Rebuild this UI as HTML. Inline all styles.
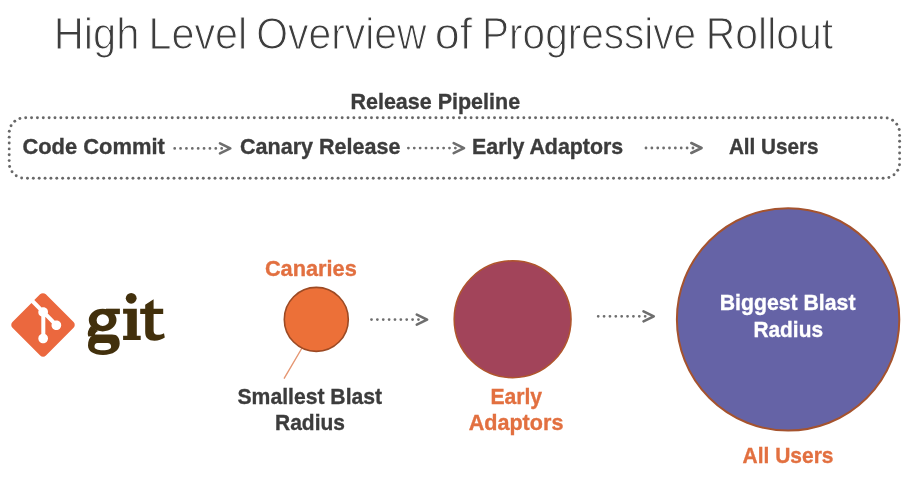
<!DOCTYPE html>
<html><head><meta charset="utf-8"><style>
html,body{margin:0;padding:0;background:#fff;}
body{width:907px;height:499px;overflow:hidden;}
svg{display:block;will-change:transform;}
</style></head><body>
<svg width="907" height="499" viewBox="0 0 907 499">
<g fill="#686868"><circle cx="25.70" cy="117.80" r="1.45"/><circle cx="31.56" cy="117.80" r="1.45"/><circle cx="37.42" cy="117.80" r="1.45"/><circle cx="43.28" cy="117.80" r="1.45"/><circle cx="49.14" cy="117.80" r="1.45"/><circle cx="55.00" cy="117.80" r="1.45"/><circle cx="60.86" cy="117.80" r="1.45"/><circle cx="66.72" cy="117.80" r="1.45"/><circle cx="72.58" cy="117.80" r="1.45"/><circle cx="78.44" cy="117.80" r="1.45"/><circle cx="84.30" cy="117.80" r="1.45"/><circle cx="90.16" cy="117.80" r="1.45"/><circle cx="96.02" cy="117.80" r="1.45"/><circle cx="101.89" cy="117.80" r="1.45"/><circle cx="107.75" cy="117.80" r="1.45"/><circle cx="113.61" cy="117.80" r="1.45"/><circle cx="119.47" cy="117.80" r="1.45"/><circle cx="125.33" cy="117.80" r="1.45"/><circle cx="131.19" cy="117.80" r="1.45"/><circle cx="137.05" cy="117.80" r="1.45"/><circle cx="142.91" cy="117.80" r="1.45"/><circle cx="148.77" cy="117.80" r="1.45"/><circle cx="154.63" cy="117.80" r="1.45"/><circle cx="160.49" cy="117.80" r="1.45"/><circle cx="166.35" cy="117.80" r="1.45"/><circle cx="172.21" cy="117.80" r="1.45"/><circle cx="178.07" cy="117.80" r="1.45"/><circle cx="183.93" cy="117.80" r="1.45"/><circle cx="189.79" cy="117.80" r="1.45"/><circle cx="195.65" cy="117.80" r="1.45"/><circle cx="201.51" cy="117.80" r="1.45"/><circle cx="207.37" cy="117.80" r="1.45"/><circle cx="213.23" cy="117.80" r="1.45"/><circle cx="219.09" cy="117.80" r="1.45"/><circle cx="224.95" cy="117.80" r="1.45"/><circle cx="230.81" cy="117.80" r="1.45"/><circle cx="236.67" cy="117.80" r="1.45"/><circle cx="242.54" cy="117.80" r="1.45"/><circle cx="248.40" cy="117.80" r="1.45"/><circle cx="254.26" cy="117.80" r="1.45"/><circle cx="260.12" cy="117.80" r="1.45"/><circle cx="265.98" cy="117.80" r="1.45"/><circle cx="271.84" cy="117.80" r="1.45"/><circle cx="277.70" cy="117.80" r="1.45"/><circle cx="283.56" cy="117.80" r="1.45"/><circle cx="289.42" cy="117.80" r="1.45"/><circle cx="295.28" cy="117.80" r="1.45"/><circle cx="301.14" cy="117.80" r="1.45"/><circle cx="307.00" cy="117.80" r="1.45"/><circle cx="312.86" cy="117.80" r="1.45"/><circle cx="318.72" cy="117.80" r="1.45"/><circle cx="324.58" cy="117.80" r="1.45"/><circle cx="330.44" cy="117.80" r="1.45"/><circle cx="336.30" cy="117.80" r="1.45"/><circle cx="342.16" cy="117.80" r="1.45"/><circle cx="348.02" cy="117.80" r="1.45"/><circle cx="353.88" cy="117.80" r="1.45"/><circle cx="359.74" cy="117.80" r="1.45"/><circle cx="365.60" cy="117.80" r="1.45"/><circle cx="371.46" cy="117.80" r="1.45"/><circle cx="377.32" cy="117.80" r="1.45"/><circle cx="383.19" cy="117.80" r="1.45"/><circle cx="389.05" cy="117.80" r="1.45"/><circle cx="394.91" cy="117.80" r="1.45"/><circle cx="400.77" cy="117.80" r="1.45"/><circle cx="406.63" cy="117.80" r="1.45"/><circle cx="412.49" cy="117.80" r="1.45"/><circle cx="418.35" cy="117.80" r="1.45"/><circle cx="424.21" cy="117.80" r="1.45"/><circle cx="430.07" cy="117.80" r="1.45"/><circle cx="435.93" cy="117.80" r="1.45"/><circle cx="441.79" cy="117.80" r="1.45"/><circle cx="447.65" cy="117.80" r="1.45"/><circle cx="453.51" cy="117.80" r="1.45"/><circle cx="459.37" cy="117.80" r="1.45"/><circle cx="465.23" cy="117.80" r="1.45"/><circle cx="471.09" cy="117.80" r="1.45"/><circle cx="476.95" cy="117.80" r="1.45"/><circle cx="482.81" cy="117.80" r="1.45"/><circle cx="488.67" cy="117.80" r="1.45"/><circle cx="494.53" cy="117.80" r="1.45"/><circle cx="500.39" cy="117.80" r="1.45"/><circle cx="506.25" cy="117.80" r="1.45"/><circle cx="512.11" cy="117.80" r="1.45"/><circle cx="517.97" cy="117.80" r="1.45"/><circle cx="523.84" cy="117.80" r="1.45"/><circle cx="529.70" cy="117.80" r="1.45"/><circle cx="535.56" cy="117.80" r="1.45"/><circle cx="541.42" cy="117.80" r="1.45"/><circle cx="547.28" cy="117.80" r="1.45"/><circle cx="553.14" cy="117.80" r="1.45"/><circle cx="559.00" cy="117.80" r="1.45"/><circle cx="564.86" cy="117.80" r="1.45"/><circle cx="570.72" cy="117.80" r="1.45"/><circle cx="576.58" cy="117.80" r="1.45"/><circle cx="582.44" cy="117.80" r="1.45"/><circle cx="588.30" cy="117.80" r="1.45"/><circle cx="594.16" cy="117.80" r="1.45"/><circle cx="600.02" cy="117.80" r="1.45"/><circle cx="605.88" cy="117.80" r="1.45"/><circle cx="611.74" cy="117.80" r="1.45"/><circle cx="617.60" cy="117.80" r="1.45"/><circle cx="623.46" cy="117.80" r="1.45"/><circle cx="629.32" cy="117.80" r="1.45"/><circle cx="635.18" cy="117.80" r="1.45"/><circle cx="641.04" cy="117.80" r="1.45"/><circle cx="646.90" cy="117.80" r="1.45"/><circle cx="652.76" cy="117.80" r="1.45"/><circle cx="658.62" cy="117.80" r="1.45"/><circle cx="664.49" cy="117.80" r="1.45"/><circle cx="670.35" cy="117.80" r="1.45"/><circle cx="676.21" cy="117.80" r="1.45"/><circle cx="682.07" cy="117.80" r="1.45"/><circle cx="687.93" cy="117.80" r="1.45"/><circle cx="693.79" cy="117.80" r="1.45"/><circle cx="699.65" cy="117.80" r="1.45"/><circle cx="705.51" cy="117.80" r="1.45"/><circle cx="711.37" cy="117.80" r="1.45"/><circle cx="717.23" cy="117.80" r="1.45"/><circle cx="723.09" cy="117.80" r="1.45"/><circle cx="728.95" cy="117.80" r="1.45"/><circle cx="734.81" cy="117.80" r="1.45"/><circle cx="740.67" cy="117.80" r="1.45"/><circle cx="746.53" cy="117.80" r="1.45"/><circle cx="752.39" cy="117.80" r="1.45"/><circle cx="758.25" cy="117.80" r="1.45"/><circle cx="764.11" cy="117.80" r="1.45"/><circle cx="769.97" cy="117.80" r="1.45"/><circle cx="775.83" cy="117.80" r="1.45"/><circle cx="781.69" cy="117.80" r="1.45"/><circle cx="787.55" cy="117.80" r="1.45"/><circle cx="793.41" cy="117.80" r="1.45"/><circle cx="799.27" cy="117.80" r="1.45"/><circle cx="805.14" cy="117.80" r="1.45"/><circle cx="811.00" cy="117.80" r="1.45"/><circle cx="816.86" cy="117.80" r="1.45"/><circle cx="822.72" cy="117.80" r="1.45"/><circle cx="828.58" cy="117.80" r="1.45"/><circle cx="834.44" cy="117.80" r="1.45"/><circle cx="840.30" cy="117.80" r="1.45"/><circle cx="846.16" cy="117.80" r="1.45"/><circle cx="852.02" cy="117.80" r="1.45"/><circle cx="857.88" cy="117.80" r="1.45"/><circle cx="863.74" cy="117.80" r="1.45"/><circle cx="869.60" cy="117.80" r="1.45"/><circle cx="875.46" cy="117.80" r="1.45"/><circle cx="881.32" cy="117.80" r="1.45"/><circle cx="887.16" cy="118.07" r="1.45"/><circle cx="892.57" cy="120.23" r="1.45"/><circle cx="896.78" cy="124.25" r="1.45"/><circle cx="899.19" cy="129.56" r="1.45"/><circle cx="899.60" cy="135.39" r="1.45"/><circle cx="899.60" cy="141.25" r="1.45"/><circle cx="899.60" cy="147.11" r="1.45"/><circle cx="899.60" cy="152.97" r="1.45"/><circle cx="899.60" cy="158.83" r="1.45"/><circle cx="899.50" cy="164.69" r="1.45"/><circle cx="897.73" cy="170.24" r="1.45"/><circle cx="894.01" cy="174.72" r="1.45"/><circle cx="888.89" cy="177.50" r="1.45"/><circle cx="883.10" cy="178.20" r="1.45"/><circle cx="877.24" cy="178.20" r="1.45"/><circle cx="871.38" cy="178.20" r="1.45"/><circle cx="865.52" cy="178.20" r="1.45"/><circle cx="859.66" cy="178.20" r="1.45"/><circle cx="853.80" cy="178.20" r="1.45"/><circle cx="847.94" cy="178.20" r="1.45"/><circle cx="842.08" cy="178.20" r="1.45"/><circle cx="836.22" cy="178.20" r="1.45"/><circle cx="830.36" cy="178.20" r="1.45"/><circle cx="824.50" cy="178.20" r="1.45"/><circle cx="818.64" cy="178.20" r="1.45"/><circle cx="812.78" cy="178.20" r="1.45"/><circle cx="806.91" cy="178.20" r="1.45"/><circle cx="801.05" cy="178.20" r="1.45"/><circle cx="795.19" cy="178.20" r="1.45"/><circle cx="789.33" cy="178.20" r="1.45"/><circle cx="783.47" cy="178.20" r="1.45"/><circle cx="777.61" cy="178.20" r="1.45"/><circle cx="771.75" cy="178.20" r="1.45"/><circle cx="765.89" cy="178.20" r="1.45"/><circle cx="760.03" cy="178.20" r="1.45"/><circle cx="754.17" cy="178.20" r="1.45"/><circle cx="748.31" cy="178.20" r="1.45"/><circle cx="742.45" cy="178.20" r="1.45"/><circle cx="736.59" cy="178.20" r="1.45"/><circle cx="730.73" cy="178.20" r="1.45"/><circle cx="724.87" cy="178.20" r="1.45"/><circle cx="719.01" cy="178.20" r="1.45"/><circle cx="713.15" cy="178.20" r="1.45"/><circle cx="707.29" cy="178.20" r="1.45"/><circle cx="701.43" cy="178.20" r="1.45"/><circle cx="695.57" cy="178.20" r="1.45"/><circle cx="689.71" cy="178.20" r="1.45"/><circle cx="683.85" cy="178.20" r="1.45"/><circle cx="677.99" cy="178.20" r="1.45"/><circle cx="672.13" cy="178.20" r="1.45"/><circle cx="666.26" cy="178.20" r="1.45"/><circle cx="660.40" cy="178.20" r="1.45"/><circle cx="654.54" cy="178.20" r="1.45"/><circle cx="648.68" cy="178.20" r="1.45"/><circle cx="642.82" cy="178.20" r="1.45"/><circle cx="636.96" cy="178.20" r="1.45"/><circle cx="631.10" cy="178.20" r="1.45"/><circle cx="625.24" cy="178.20" r="1.45"/><circle cx="619.38" cy="178.20" r="1.45"/><circle cx="613.52" cy="178.20" r="1.45"/><circle cx="607.66" cy="178.20" r="1.45"/><circle cx="601.80" cy="178.20" r="1.45"/><circle cx="595.94" cy="178.20" r="1.45"/><circle cx="590.08" cy="178.20" r="1.45"/><circle cx="584.22" cy="178.20" r="1.45"/><circle cx="578.36" cy="178.20" r="1.45"/><circle cx="572.50" cy="178.20" r="1.45"/><circle cx="566.64" cy="178.20" r="1.45"/><circle cx="560.78" cy="178.20" r="1.45"/><circle cx="554.92" cy="178.20" r="1.45"/><circle cx="549.06" cy="178.20" r="1.45"/><circle cx="543.20" cy="178.20" r="1.45"/><circle cx="537.34" cy="178.20" r="1.45"/><circle cx="531.48" cy="178.20" r="1.45"/><circle cx="525.61" cy="178.20" r="1.45"/><circle cx="519.75" cy="178.20" r="1.45"/><circle cx="513.89" cy="178.20" r="1.45"/><circle cx="508.03" cy="178.20" r="1.45"/><circle cx="502.17" cy="178.20" r="1.45"/><circle cx="496.31" cy="178.20" r="1.45"/><circle cx="490.45" cy="178.20" r="1.45"/><circle cx="484.59" cy="178.20" r="1.45"/><circle cx="478.73" cy="178.20" r="1.45"/><circle cx="472.87" cy="178.20" r="1.45"/><circle cx="467.01" cy="178.20" r="1.45"/><circle cx="461.15" cy="178.20" r="1.45"/><circle cx="455.29" cy="178.20" r="1.45"/><circle cx="449.43" cy="178.20" r="1.45"/><circle cx="443.57" cy="178.20" r="1.45"/><circle cx="437.71" cy="178.20" r="1.45"/><circle cx="431.85" cy="178.20" r="1.45"/><circle cx="425.99" cy="178.20" r="1.45"/><circle cx="420.13" cy="178.20" r="1.45"/><circle cx="414.27" cy="178.20" r="1.45"/><circle cx="408.41" cy="178.20" r="1.45"/><circle cx="402.55" cy="178.20" r="1.45"/><circle cx="396.69" cy="178.20" r="1.45"/><circle cx="390.83" cy="178.20" r="1.45"/><circle cx="384.96" cy="178.20" r="1.45"/><circle cx="379.10" cy="178.20" r="1.45"/><circle cx="373.24" cy="178.20" r="1.45"/><circle cx="367.38" cy="178.20" r="1.45"/><circle cx="361.52" cy="178.20" r="1.45"/><circle cx="355.66" cy="178.20" r="1.45"/><circle cx="349.80" cy="178.20" r="1.45"/><circle cx="343.94" cy="178.20" r="1.45"/><circle cx="338.08" cy="178.20" r="1.45"/><circle cx="332.22" cy="178.20" r="1.45"/><circle cx="326.36" cy="178.20" r="1.45"/><circle cx="320.50" cy="178.20" r="1.45"/><circle cx="314.64" cy="178.20" r="1.45"/><circle cx="308.78" cy="178.20" r="1.45"/><circle cx="302.92" cy="178.20" r="1.45"/><circle cx="297.06" cy="178.20" r="1.45"/><circle cx="291.20" cy="178.20" r="1.45"/><circle cx="285.34" cy="178.20" r="1.45"/><circle cx="279.48" cy="178.20" r="1.45"/><circle cx="273.62" cy="178.20" r="1.45"/><circle cx="267.76" cy="178.20" r="1.45"/><circle cx="261.90" cy="178.20" r="1.45"/><circle cx="256.04" cy="178.20" r="1.45"/><circle cx="250.18" cy="178.20" r="1.45"/><circle cx="244.31" cy="178.20" r="1.45"/><circle cx="238.45" cy="178.20" r="1.45"/><circle cx="232.59" cy="178.20" r="1.45"/><circle cx="226.73" cy="178.20" r="1.45"/><circle cx="220.87" cy="178.20" r="1.45"/><circle cx="215.01" cy="178.20" r="1.45"/><circle cx="209.15" cy="178.20" r="1.45"/><circle cx="203.29" cy="178.20" r="1.45"/><circle cx="197.43" cy="178.20" r="1.45"/><circle cx="191.57" cy="178.20" r="1.45"/><circle cx="185.71" cy="178.20" r="1.45"/><circle cx="179.85" cy="178.20" r="1.45"/><circle cx="173.99" cy="178.20" r="1.45"/><circle cx="168.13" cy="178.20" r="1.45"/><circle cx="162.27" cy="178.20" r="1.45"/><circle cx="156.41" cy="178.20" r="1.45"/><circle cx="150.55" cy="178.20" r="1.45"/><circle cx="144.69" cy="178.20" r="1.45"/><circle cx="138.83" cy="178.20" r="1.45"/><circle cx="132.97" cy="178.20" r="1.45"/><circle cx="127.11" cy="178.20" r="1.45"/><circle cx="121.25" cy="178.20" r="1.45"/><circle cx="115.39" cy="178.20" r="1.45"/><circle cx="109.53" cy="178.20" r="1.45"/><circle cx="103.66" cy="178.20" r="1.45"/><circle cx="97.80" cy="178.20" r="1.45"/><circle cx="91.94" cy="178.20" r="1.45"/><circle cx="86.08" cy="178.20" r="1.45"/><circle cx="80.22" cy="178.20" r="1.45"/><circle cx="74.36" cy="178.20" r="1.45"/><circle cx="68.50" cy="178.20" r="1.45"/><circle cx="62.64" cy="178.20" r="1.45"/><circle cx="56.78" cy="178.20" r="1.45"/><circle cx="50.92" cy="178.20" r="1.45"/><circle cx="45.06" cy="178.20" r="1.45"/><circle cx="39.20" cy="178.20" r="1.45"/><circle cx="33.34" cy="178.20" r="1.45"/><circle cx="27.48" cy="178.20" r="1.45"/><circle cx="21.64" cy="177.93" r="1.45"/><circle cx="16.23" cy="175.77" r="1.45"/><circle cx="12.02" cy="171.75" r="1.45"/><circle cx="9.61" cy="166.44" r="1.45"/><circle cx="9.20" cy="160.61" r="1.45"/><circle cx="9.20" cy="154.75" r="1.45"/><circle cx="9.20" cy="148.89" r="1.45"/><circle cx="9.20" cy="143.03" r="1.45"/><circle cx="9.20" cy="137.17" r="1.45"/><circle cx="9.30" cy="131.31" r="1.45"/><circle cx="11.07" cy="125.76" r="1.45"/><circle cx="14.79" cy="121.28" r="1.45"/><circle cx="19.91" cy="118.50" r="1.45"/></g>
<path d="M174.70 148.40h0 M180.57 148.40h0 M186.44 148.40h0 M192.31 148.40h0 M198.18 148.40h0 M204.05 148.40h0 M209.92 148.40h0 M215.79 148.40h0 M221.66 148.40h0" stroke="#6e6e6e" stroke-width="2.8" stroke-linecap="round" fill="none"/>
<path d="M220.00 143.40L230.30 148.40L220.00 153.40" stroke="#6e6e6e" stroke-width="2.6" stroke-linecap="round" stroke-linejoin="round" fill="none"/>
<path d="M408.40 148.10h0 M414.27 148.10h0 M420.14 148.10h0 M426.01 148.10h0 M431.88 148.10h0 M437.75 148.10h0 M443.62 148.10h0 M449.49 148.10h0 M455.36 148.10h0" stroke="#6e6e6e" stroke-width="2.8" stroke-linecap="round" fill="none"/>
<path d="M453.70 143.10L464.00 148.10L453.70 153.10" stroke="#6e6e6e" stroke-width="2.6" stroke-linecap="round" stroke-linejoin="round" fill="none"/>
<path d="M646.00 148.00h0 M651.87 148.00h0 M657.74 148.00h0 M663.61 148.00h0 M669.48 148.00h0 M675.35 148.00h0 M681.22 148.00h0 M687.09 148.00h0 M692.96 148.00h0" stroke="#6e6e6e" stroke-width="2.8" stroke-linecap="round" fill="none"/>
<path d="M691.30 143.00L701.60 148.00L691.30 153.00" stroke="#6e6e6e" stroke-width="2.6" stroke-linecap="round" stroke-linejoin="round" fill="none"/>
<path d="M371.50 319.60h0 M377.37 319.60h0 M383.24 319.60h0 M389.11 319.60h0 M394.98 319.60h0 M400.85 319.60h0 M406.72 319.60h0 M412.59 319.60h0 M418.46 319.60h0" stroke="#6e6e6e" stroke-width="2.8" stroke-linecap="round" fill="none"/>
<path d="M416.80 314.60L427.10 319.60L416.80 324.60" stroke="#6e6e6e" stroke-width="2.6" stroke-linecap="round" stroke-linejoin="round" fill="none"/>
<path d="M598.20 316.30h0 M604.07 316.30h0 M609.94 316.30h0 M615.81 316.30h0 M621.68 316.30h0 M627.55 316.30h0 M633.42 316.30h0 M639.29 316.30h0 M645.16 316.30h0" stroke="#6e6e6e" stroke-width="2.8" stroke-linecap="round" fill="none"/>
<path d="M643.50 311.30L653.80 316.30L643.50 321.30" stroke="#6e6e6e" stroke-width="2.6" stroke-linecap="round" stroke-linejoin="round" fill="none"/>
<line x1="302" y1="348" x2="284.3" y2="378.2" stroke="#E59672" stroke-width="1.4" stroke-linecap="round"/>
<circle cx="316.3" cy="319.4" r="32.0" fill="#EC7038" stroke="#9C4A24" stroke-width="1.6"/>
<circle cx="512.6" cy="319.25" r="58.45" fill="#A2445A" stroke="#B0552C" stroke-width="1.5"/>
<circle cx="788.1" cy="319.4" r="111.2" fill="#6563A6" stroke="#A5532E" stroke-width="2"/>
<g transform="translate(9.5 291.4) scale(0.691)"><path fill="#EB683E" d="M92.71,44.408L52.591,4.291c-2.31-2.311-6.057-2.311-8.369,0l-8.33,8.332L46.459,23.19c2.456-0.83,5.272-0.273,7.229,1.685c1.969,1.97,2.521,4.81,1.67,7.275l10.186,10.185c2.465-0.85,5.307-0.3,7.275,1.671c2.75,2.75,2.75,7.206,0,9.958c-2.752,2.751-7.208,2.751-9.961,0c-2.068-2.07-2.58-5.11-1.531-7.658l-9.5-9.499v24.997c0.67,0.332,1.303,0.774,1.861,1.332c2.75,2.75,2.75,7.206,0,9.959c-2.75,2.749-7.209,2.749-9.957,0c-2.75-2.754-2.75-7.21,0-9.959c0.68-0.679,1.467-1.193,2.307-1.537V36.369c-0.84-0.344-1.625-0.853-2.307-1.537c-2.083-2.082-2.584-5.14-1.516-7.698L31.798,16.715L4.288,44.222c-2.311,2.313-2.311,6.06,0,8.371l40.121,40.118c2.31,2.311,6.056,2.311,8.369,0l39.932-39.934C95.021,50.464,95.021,46.716,92.71,44.408z"/></g>
<path fill="#42300C" fill-rule="evenodd" d="M88.8,320.05 A13.85,11.35 0 1 0 116.5,320.05 A13.85,11.35 0 1 0 88.8,320.05 Z M96.6,320.2 A6.2,5.9 0 1 1 109,320.2 A6.2,5.9 0 1 1 96.6,320.2 Z"/>
<rect fill="#42300C" x="106" y="308.7" width="13.9" height="5.4"/>
<path fill="#42300C" d="M91,326 C88,330 87,333 88.3,336.5 L95,336 C94.5,334 95.5,332 98,331 Z"/>
<path fill="#42300C" fill-rule="evenodd" d="M95,334.6 L112,334.6 C117.5,334.6 119.7,338 119.7,343.5 C119.7,350.5 113,354.9 103,354.9 C93,354.9 88,351 88,345.5 C88,341 89.5,337.5 92,335.8 Z M97.5,342.9 L107.5,342.9 C110,342.9 111.1,344.5 111.1,346.5 C111.1,349 108.5,350.2 103,350.2 C97.5,350.2 94.5,349 94.5,346.5 C94.5,344.2 95.5,342.9 97.5,342.9 Z"/>
<circle fill="#42300C" cx="131.2" cy="298.3" r="5.4"/>
<path fill="#42300C" d="M123.1,308.7 L136.8,308.7 L136.8,335.7 L140.7,335.7 L140.7,340.1 L123.1,340.1 L123.1,335.7 L127.3,335.7 L127.3,313.8 L123.1,313.8 Z"/>
<path fill="#42300C" d="M145.2,304.8 L153.6,299.2 L153.6,308.7 L163.2,308.7 L163.2,314 L153.6,314 L153.6,330 C153.6,333.5 155,334.8 158,334.8 C160,334.8 162,334.3 164,333.2 L164.8,337.6 C162,339.5 158.5,340.7 154.5,340.7 C148.5,340.7 145.2,338 145.2,332 L145.2,314 L140.2,314 L140.2,308.7 L145.2,308.7 Z"/>
<text x="53.66" y="48.7" font-size="45.0" font-weight="normal" fill="#3d3d3d" font-family="&quot;Liberation Sans&quot;, sans-serif" textLength="85.83" lengthAdjust="spacingAndGlyphs" stroke="#fff" stroke-width="1.1">High</text>
<text x="148.49" y="48.7" font-size="45.0" font-weight="normal" fill="#3d3d3d" font-family="&quot;Liberation Sans&quot;, sans-serif" textLength="98.66" lengthAdjust="spacingAndGlyphs" stroke="#fff" stroke-width="1.1">Level</text>
<text x="256.18" y="48.7" font-size="45.0" font-weight="normal" fill="#3d3d3d" font-family="&quot;Liberation Sans&quot;, sans-serif" textLength="170.33" lengthAdjust="spacingAndGlyphs" stroke="#fff" stroke-width="1.1">Overview</text>
<text x="434.73" y="48.7" font-size="45.0" font-weight="normal" fill="#3d3d3d" font-family="&quot;Liberation Sans&quot;, sans-serif" textLength="37.36" lengthAdjust="spacingAndGlyphs" stroke="#fff" stroke-width="1.1">of</text>
<text x="482.11" y="48.7" font-size="45.0" font-weight="normal" fill="#3d3d3d" font-family="&quot;Liberation Sans&quot;, sans-serif" textLength="213.85" lengthAdjust="spacingAndGlyphs" stroke="#fff" stroke-width="1.1">Progressive</text>
<text x="705.82" y="48.7" font-size="45.0" font-weight="normal" fill="#3d3d3d" font-family="&quot;Liberation Sans&quot;, sans-serif" textLength="127.20" lengthAdjust="spacingAndGlyphs" stroke="#fff" stroke-width="1.1">Rollout</text>
<text x="350.49" y="108.6" font-size="22.3" font-weight="bold" fill="#3c3c3c" font-family="&quot;Liberation Sans&quot;, sans-serif" textLength="169.61" lengthAdjust="spacingAndGlyphs" stroke="#3c3c3c" stroke-width="0.35">Release Pipeline</text>
<text x="22.40" y="154.0" font-size="22.2" font-weight="bold" fill="#3c3c3c" font-family="&quot;Liberation Sans&quot;, sans-serif" textLength="142.41" lengthAdjust="spacingAndGlyphs" stroke="#3c3c3c" stroke-width="0.35">Code Commit</text>
<text x="240.00" y="154.0" font-size="22.2" font-weight="bold" fill="#3c3c3c" font-family="&quot;Liberation Sans&quot;, sans-serif" textLength="160.51" lengthAdjust="spacingAndGlyphs" stroke="#3c3c3c" stroke-width="0.35">Canary Release</text>
<text x="472.00" y="154.0" font-size="22.2" font-weight="bold" fill="#3c3c3c" font-family="&quot;Liberation Sans&quot;, sans-serif" textLength="151.21" lengthAdjust="spacingAndGlyphs" stroke="#3c3c3c" stroke-width="0.35">Early Adaptors</text>
<text x="728.90" y="154.0" font-size="22.2" font-weight="bold" fill="#3c3c3c" font-family="&quot;Liberation Sans&quot;, sans-serif" textLength="89.69" lengthAdjust="spacingAndGlyphs" stroke="#3c3c3c" stroke-width="0.35">All Users</text>
<text x="264.89" y="276.4" font-size="22.9" font-weight="bold" fill="#E27040" font-family="&quot;Liberation Sans&quot;, sans-serif" textLength="91.92" lengthAdjust="spacingAndGlyphs" stroke="#E27040" stroke-width="0.35">Canaries</text>
<text x="237.48" y="403.8" font-size="22.9" font-weight="bold" fill="#3c3c3c" font-family="&quot;Liberation Sans&quot;, sans-serif" textLength="144.64" lengthAdjust="spacingAndGlyphs" stroke="#3c3c3c" stroke-width="0.35">Smallest Blast</text>
<text x="275.09" y="429.9" font-size="22.9" font-weight="bold" fill="#3c3c3c" font-family="&quot;Liberation Sans&quot;, sans-serif" textLength="69.83" lengthAdjust="spacingAndGlyphs" stroke="#3c3c3c" stroke-width="0.35">Radius</text>
<text x="490.39" y="403.8" font-size="22.9" font-weight="bold" fill="#E27040" font-family="&quot;Liberation Sans&quot;, sans-serif" textLength="51.72" lengthAdjust="spacingAndGlyphs" stroke="#E27040" stroke-width="0.35">Early</text>
<text x="468.70" y="430.3" font-size="22.9" font-weight="bold" fill="#E27040" font-family="&quot;Liberation Sans&quot;, sans-serif" textLength="94.70" lengthAdjust="spacingAndGlyphs" stroke="#E27040" stroke-width="0.35">Adaptors</text>
<text x="719.70" y="309.7" font-size="22.9" font-weight="bold" fill="#ffffff" font-family="&quot;Liberation Sans&quot;, sans-serif" textLength="135.81" lengthAdjust="spacingAndGlyphs" stroke="#ffffff" stroke-width="0.35">Biggest Blast</text>
<text x="753.48" y="337.0" font-size="22.9" font-weight="bold" fill="#ffffff" font-family="&quot;Liberation Sans&quot;, sans-serif" textLength="69.52" lengthAdjust="spacingAndGlyphs" stroke="#ffffff" stroke-width="0.35">Radius</text>
<text x="742.59" y="462.8" font-size="22.9" font-weight="bold" fill="#E27040" font-family="&quot;Liberation Sans&quot;, sans-serif" textLength="90.92" lengthAdjust="spacingAndGlyphs" stroke="#E27040" stroke-width="0.35">All Users</text>
</svg>
</body></html>
